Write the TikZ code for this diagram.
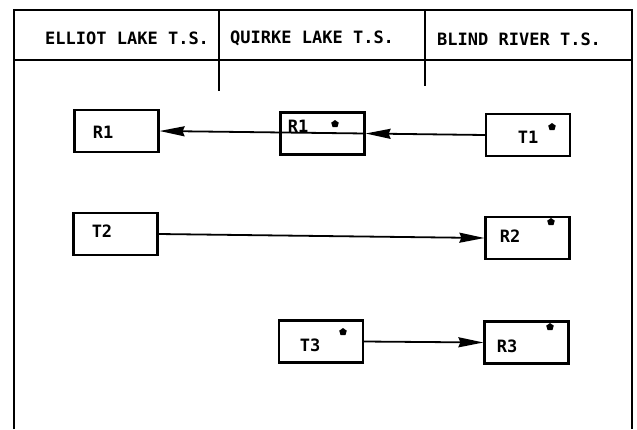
\documentclass[tikz,border=0pt]{standalone}
\usepackage{fontspec}
\usepackage{tikz}
\usetikzlibrary{arrows.meta, shapes.geometric}
\newfontfamily\tagfont{DejaVu Sans Mono}
\newcommand{\relaybox}[4]{%
  \node[draw, line width=2.2pt, minimum width=84, minimum height=42,
        inner sep=0pt] (#1) at #2 {};
  \node[font=\tagfont\bfseries\fontsize{17}{18}\selectfont]
        (#1l) at #3 {#4};
}
\newcommand{\starbox}[5]{%
  \relaybox{#1}{#2}{#3}{#4}
  \node[regular polygon, regular polygon sides=5, fill=black,
        minimum size=8pt, inner sep=0pt] (#1s) at #5 {};
}
\begin{document}
\begin{tikzpicture}[x=1pt, y=-1pt, >={Stealth[length=25pt, width=10pt, inset=2pt]},
      line width=1.8pt, font=\tagfont\bfseries\fontsize{17}{18}\selectfont]
    \useasboundingbox (0,0) rectangle (637,429);
    % frame and header
    \draw[line width=2.4pt] (14,429) -- (14,10) -- (632,10) -- (632,429);
    \draw[line width=2.4pt] (14,60) -- (632,60);
    \draw[line width=2pt] (219,10) -- (219,91);
    \draw[line width=2pt] (425,10) -- (425,86);
    \node[anchor=west] (hel) at (41,38) {ELLIOT LAKE T.S.};
    \node[anchor=west] (hqu) at (226,38) {QUIRKE LAKE T.S.};
    \node[anchor=west] (hbl) at (433,39) {BLIND RIVER T.S.};
    % stations
    \relaybox{r1a}{(116.5,131)}{(103,132)}{R1}
    \starbox{r1b}{(322.5,133.5)}{(298,126)}{R1}{(335,124)}
    \starbox{t1}{(528,135)}{(528,137)}{T1}{(552,127)}
    \relaybox{t2}{(115.5,234)}{(102,231)}{T2}
    \starbox{r2}{(527.5,238)}{(510,236)}{R2}{(551,222)}
    \starbox{t3}{(321,341.5)}{(310,345)}{T3}{(343,332)}
    \starbox{r3}{(526.5,342.5)}{(507,346)}{R3}{(550,327)}
    % links
    \draw[->] (t1.west) -- (r1b.east);
    \draw[->] (r1b.east) -- (r1a.east);
    \draw[->] (t2.east) -- (r2.west);
    \draw[->] (t3.east) -- (r3.west);
  \end{tikzpicture}
\end{document}
